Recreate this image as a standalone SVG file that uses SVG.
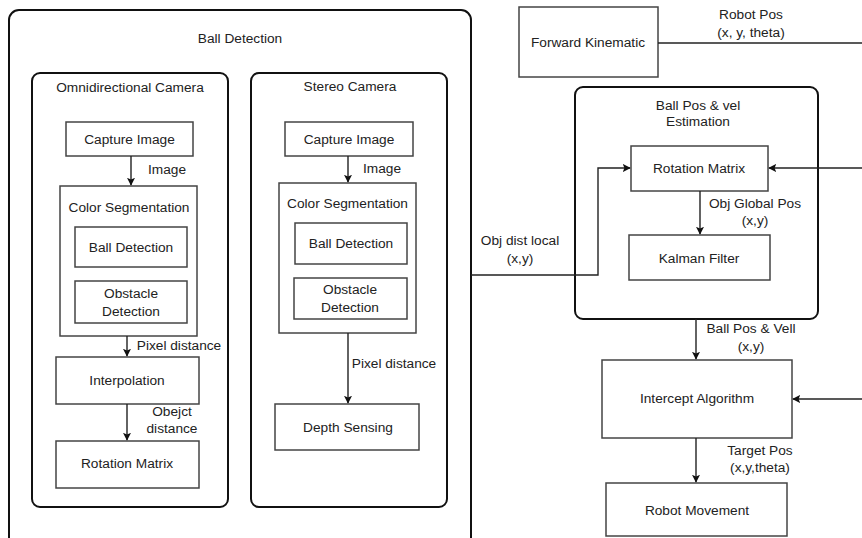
<svg xmlns="http://www.w3.org/2000/svg" width="862" height="538" viewBox="0 0 862 538">
<style>
.bg{fill:#ffffff}
.cont{fill:none;stroke:#111;stroke-width:2}
.box{fill:#ffffff;stroke:#444;stroke-width:1.5}
.t{font-family:"Liberation Sans",Arial,sans-serif;font-size:13.7px;fill:#222;text-anchor:middle}
.line{fill:none;stroke:#222;stroke-width:1.4}
</style>
<defs>
<marker id="ah" viewBox="0 0 10 10" refX="9" refY="5" markerWidth="8" markerHeight="8" markerUnits="userSpaceOnUse" orient="auto">
<path d="M0,0 L10,5 L0,10 L2,5 z" fill="#111"/>
</marker>
</defs>
<rect class="bg" x="0" y="0" width="862" height="538"/>

<g id="ball-detection">
<rect class="cont" x="9" y="10" width="462" height="540" rx="10"/>
<text class="t" x="240" y="43">Ball Detection</text>
</g>
<g id="omni-camera">
<rect class="cont" x="32" y="73" width="196" height="434" rx="8"/>
<text class="t" x="130" y="92">Omnidirectional Camera</text>
</g>
<g id="stereo-camera">
<rect class="cont" x="251" y="73" width="196" height="434" rx="8"/>
<text class="t" x="350" y="91">Stereo Camera</text>
</g>

<g id="omni-capture">
<rect class="box" x="66" y="122" width="127" height="34"/>
<text class="t" x="129.5" y="144">Capture Image</text>
</g>
<g id="omni-colorseg">
<rect class="box" x="60" y="186" width="137" height="150"/>
<text class="t" x="129" y="212">Color Segmentation</text>
</g>
<g id="omni-ball">
<rect class="box" x="75" y="227" width="112" height="40"/>
<text class="t" x="131" y="252">Ball Detection</text>
</g>
<g id="omni-obstacle">
<rect class="box" x="75" y="281" width="112" height="42"/>
<text class="t" x="131" y="298">Obstacle</text>
<text class="t" x="131" y="316">Detection</text>
</g>
<g id="omni-interp">
<rect class="box" x="56" y="357" width="143" height="47"/>
<text class="t" x="127" y="385">Interpolation</text>
</g>
<g id="omni-rotation">
<rect class="box" x="56" y="441" width="143" height="47"/>
<text class="t" x="127" y="468">Rotation Matrix</text>
</g>

<g id="stereo-capture">
<rect class="box" x="285" y="122" width="128" height="34"/>
<text class="t" x="349" y="144">Capture Image</text>
</g>
<g id="stereo-colorseg">
<rect class="box" x="279" y="183" width="137" height="150"/>
<text class="t" x="347.5" y="208">Color Segmentation</text>
</g>
<g id="stereo-ball">
<rect class="box" x="295" y="223" width="112" height="41"/>
<text class="t" x="351" y="248">Ball Detection</text>
</g>
<g id="stereo-obstacle">
<rect class="box" x="294" y="278" width="113" height="41"/>
<text class="t" x="350" y="294">Obstacle</text>
<text class="t" x="350" y="312">Detection</text>
</g>
<g id="stereo-depth">
<rect class="box" x="275" y="404" width="144" height="46"/>
<text class="t" x="348" y="432">Depth Sensing</text>
</g>

<g id="forward-kinematic">
<rect class="box" x="519" y="7" width="139" height="70"/>
<text class="t" x="588" y="47">Forward Kinematic</text>
</g>
<g id="estimation">
<rect class="cont" x="575" y="87" width="243" height="232" rx="8"/>
<text class="t" x="698" y="110">Ball Pos &amp; vel</text>
<text class="t" x="698" y="126">Estimation</text>
</g>
<g id="est-rotation">
<rect class="box" x="631" y="146" width="137" height="45"/>
<text class="t" x="699" y="173">Rotation Matrix</text>
</g>
<g id="kalman">
<rect class="box" x="629" y="235" width="141" height="45"/>
<text class="t" x="699" y="263">Kalman Filter</text>
</g>
<g id="intercept">
<rect class="box" x="602" y="360" width="190" height="78"/>
<text class="t" x="697" y="403">Intercept Algorithm</text>
</g>
<g id="robot-movement">
<rect class="box" x="606" y="483" width="181" height="53"/>
<text class="t" x="697" y="515">Robot Movement</text>
</g>

<g id="connectors">
<path class="line" d="M131,156 V185" marker-end="url(#ah)"/>
<text class="t" x="167" y="174">Image</text>
<path class="line" d="M127,336 V356" marker-end="url(#ah)"/>
<text class="t" x="179" y="350">Pixel distance</text>
<path class="line" d="M127,404 V440" marker-end="url(#ah)"/>
<text class="t" x="172" y="416">Obejct</text>
<text class="t" x="172" y="433">distance</text>

<path class="line" d="M348,156 V182" marker-end="url(#ah)"/>
<text class="t" x="382" y="173">Image</text>
<path class="line" d="M348,333 V403" marker-end="url(#ah)"/>
<text class="t" x="394" y="368">Pixel distance</text>

<path class="line" d="M658,43 H862"/>
<text class="t" x="751" y="19">Robot Pos</text>
<text class="t" x="751" y="37">(x, y, theta)</text>
<path class="line" d="M862,168 H769" marker-end="url(#ah)"/>
<path class="line" d="M471,275 H598 V168 H630" marker-end="url(#ah)"/>
<text class="t" x="520" y="245">Obj dist local</text>
<text class="t" x="520" y="263">(x,y)</text>
<path class="line" d="M700,191 V234" marker-end="url(#ah)"/>
<text class="t" x="755" y="208">Obj Global Pos</text>
<text class="t" x="755" y="225">(x,y)</text>
<path class="line" d="M696,319 V359" marker-end="url(#ah)"/>
<text class="t" x="751" y="333">Ball Pos &amp; Vell</text>
<text class="t" x="751" y="351">(x,y)</text>
<path class="line" d="M862,399 H793" marker-end="url(#ah)"/>
<path class="line" d="M696,438 V482" marker-end="url(#ah)"/>
<text class="t" x="760" y="455">Target Pos</text>
<text class="t" x="760" y="472">(x,y,theta)</text>
</g>
</svg>
